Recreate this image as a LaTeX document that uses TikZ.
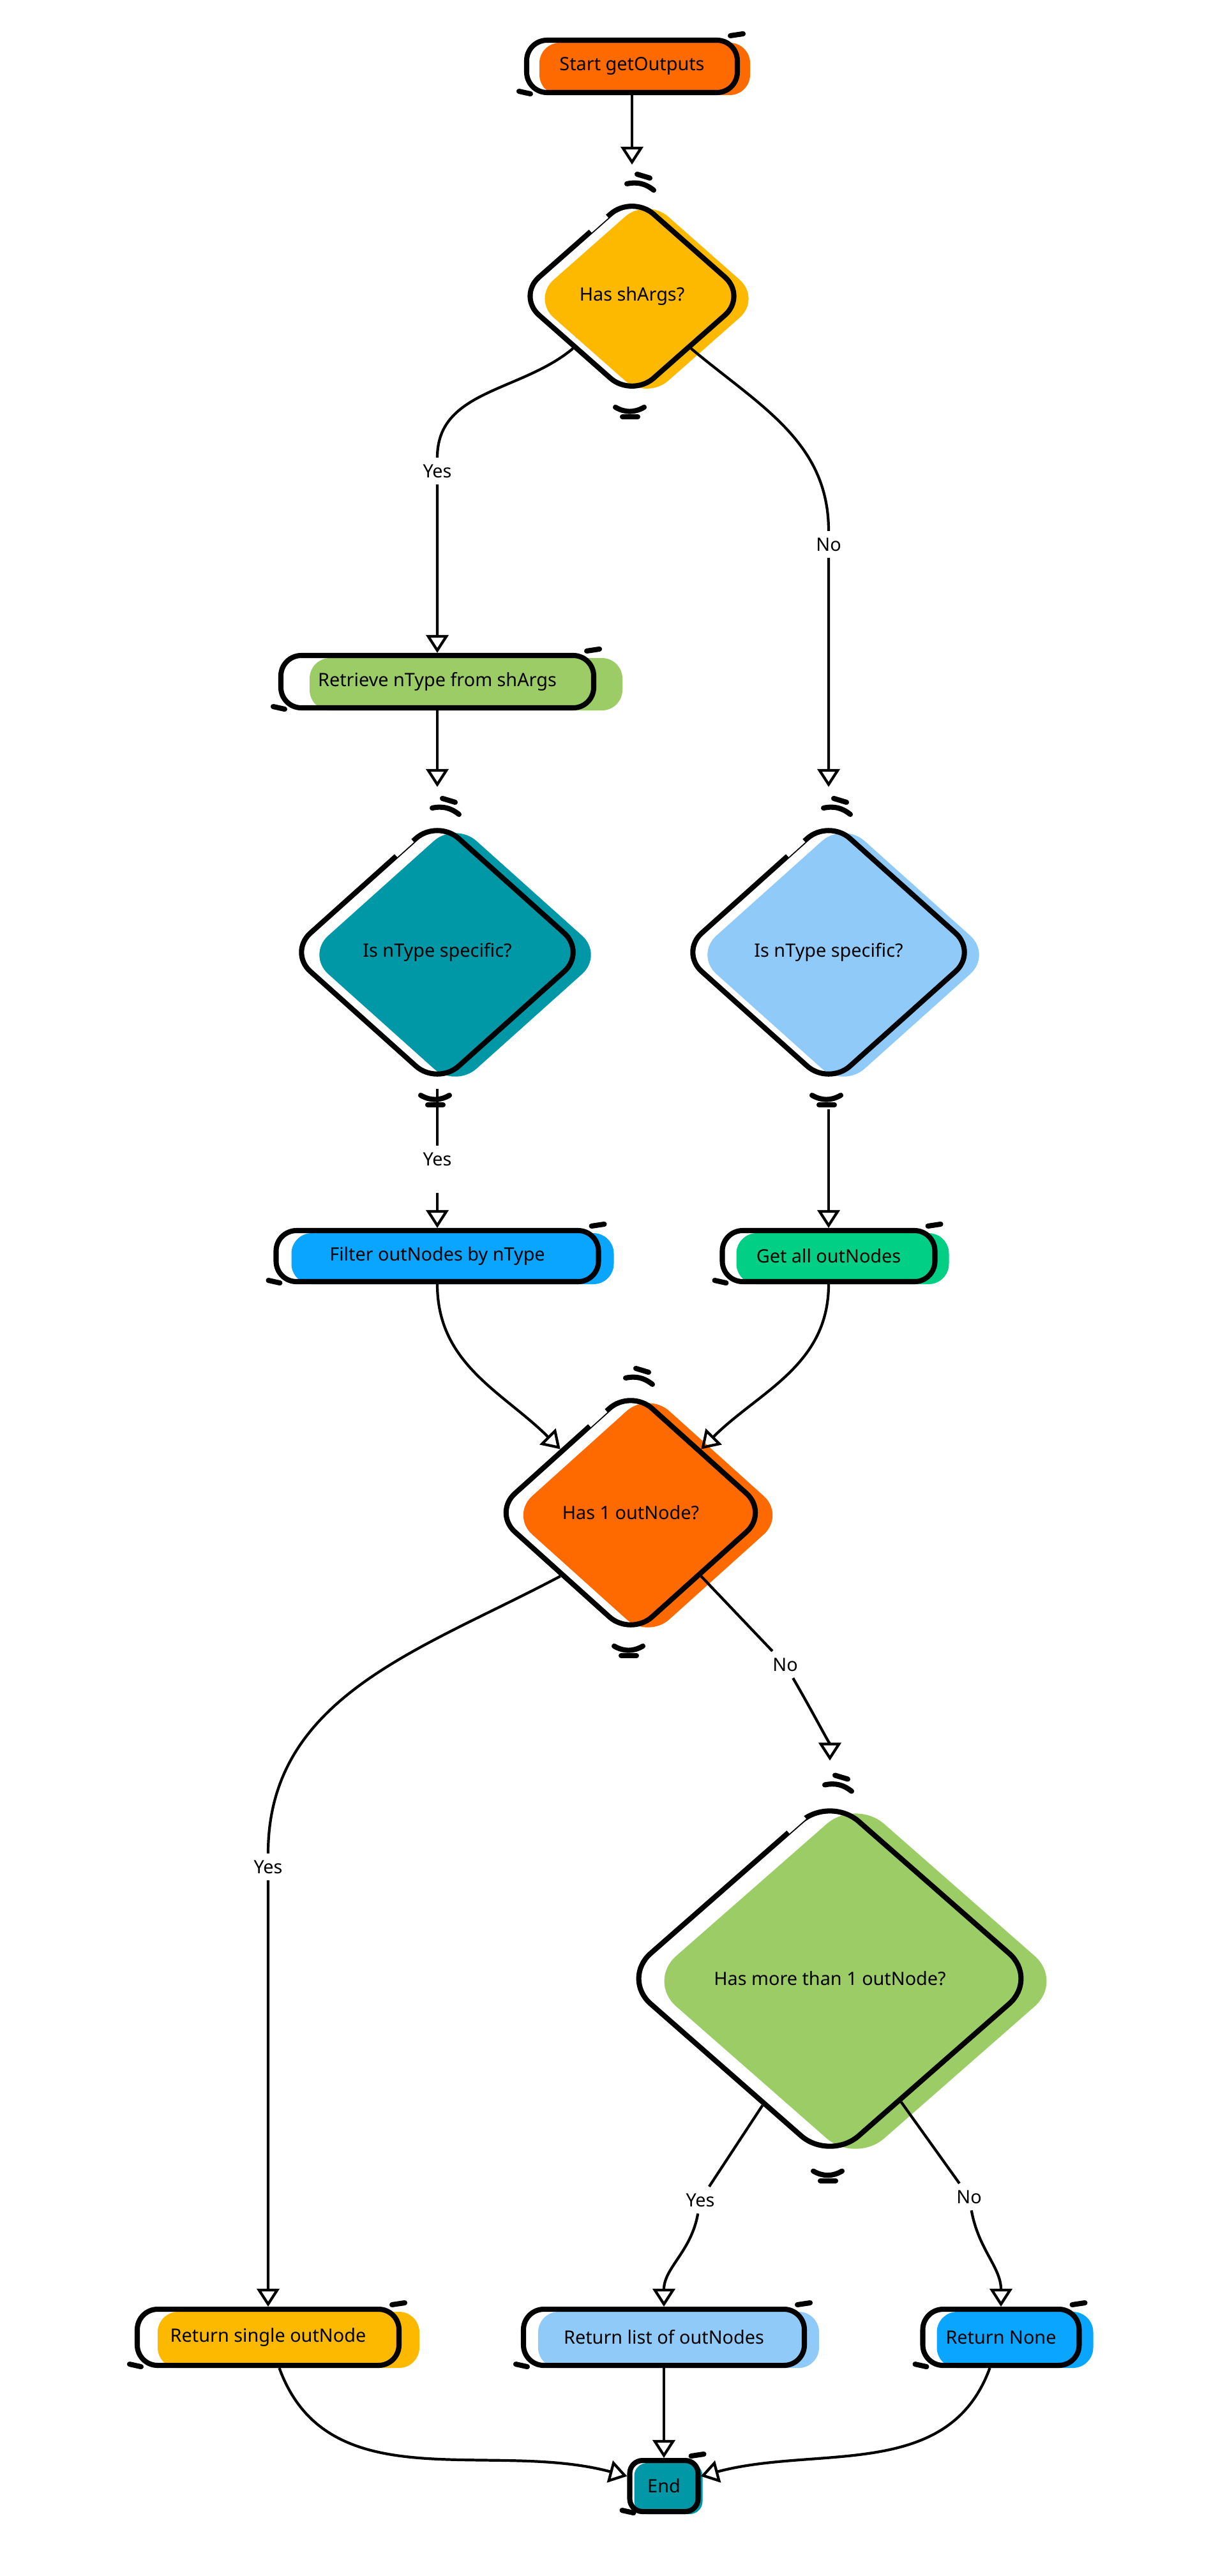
\documentclass[tikz,border=0pt]{standalone}
\usepackage{fontspec}
\setmainfont{Noto Sans}
\usetikzlibrary{shapes.geometric,arrows.meta,calc}

\definecolor{cOrange}{HTML}{FF6A00}
\definecolor{cAmber}{HTML}{FCB900}
\definecolor{cGreen}{HTML}{9CCC65}
\definecolor{cTeal}{HTML}{0097A7}
\definecolor{cSky}{HTML}{90CAF9}
\definecolor{cBlue}{HTML}{0AA5FF}
\definecolor{cMint}{HTML}{00CF85}

\tikzset{
  paint/.style 2 args={preaction={fill=#1, draw=none, transform canvas={xshift=#2, yshift=-0.04cm}}},
}

\newcommand{\boxmarks}[1]{%
  \draw[scrib] ($(#1.north east)+(-0.15,0.03)$) -- ++(0.2,0.03);
  \draw[scrib] ($(#1.south west)+(-0.08,0.06)$) -- ++(0.18,-0.04);
}
\newcommand{\decmarks}[1]{%
  \draw[line width=3.6pt, white] ($(#1.north)!0.55cm!(#1.west)$) -- ($(#1.north)!0.9cm!(#1.west)$);
  \draw[scrib] ($(#1.north)+(-0.08,0.12)$) to[bend left=25] ++(0.42,-0.1);
  \draw[scrib] ($(#1.north)+(0.08,0.27)$) -- ++(0.2,-0.06);
  \draw[scrib] ($(#1.south)+(-0.26,-0.1)$) to[bend right=30] ++(0.45,0);
  \draw[scrib] ($(#1.south)+(-0.15,-0.25)$) -- ++(0.24,0);
}

\begin{document}
\begin{tikzpicture}[
  proc/.style={draw, line width=2.3pt, line join=round, rounded corners=0.32cm, minimum height=0.82cm, inner sep=0pt, font=\fontsize{8.2}{10}\selectfont},
  dec/.style={diamond, aspect=1, draw, line width=2.3pt, line join=round, rounded corners=0.45cm, inner sep=0pt, font=\fontsize{8.2}{10}\selectfont},
  lbl/.style={fill=white, inner sep=0.1cm, font=\fontsize{8.2}{10}\selectfont},
  flow/.style={line width=1.2pt, -{Triangle[open, length=8pt, width=10pt]}},
  scrib/.style={line width=2.3pt, line cap=round},
]
  \useasboundingbox (0,0) rectangle (18.96,-40.36);

  \node [proc, paint={cOrange}{0.2cm}, minimum width=3.3cm] (start) at (9.9,-1.04) {Start getOutputs};
  \node [dec, paint={cAmber}{0.23cm}, minimum width=3.62cm, minimum height=3.2cm] (dShArgs) at (9.9,-4.64) {Has shArgs?};
  \node [lbl] (lYes1) at (6.85,-7.38) {Yes};
  \node [lbl] (lNo1) at (12.98,-8.53) {No};
  \node [proc, paint={cGreen}{0.45cm}, minimum width=4.9cm] (retrieve) at (6.85,-10.68) {Retrieve nType from shArgs};
  \node [dec, paint={cTeal}{0.28cm}, minimum width=4.68cm, minimum height=4.2cm] (dLeft) at (6.85,-14.92) {Is nType specific?};
  \node [dec, paint={cSky}{0.23cm}, minimum width=4.68cm, minimum height=4.2cm] (dRight) at (12.98,-14.92) {Is nType specific?};
  \node [lbl] (lYes2) at (6.85,-18.16) {Yes};
  \node [proc, paint={cBlue}{0.24cm}, minimum width=5.05cm, minimum height=0.8cm] (filter) at (6.85,-19.68) {Filter outNodes by nType};
  \node [proc, paint={cMint}{0.22cm}, minimum width=3.33cm, minimum height=0.8cm] (getall) at (12.98,-19.68) {Get all outNodes};
  \node [dec, paint={cOrange}{0.27cm}, minimum width=4.33cm, minimum height=3.9cm] (dOne) at (9.88,-23.7) {Has 1 outNode?};
  \node [lbl] (lNo2) at (12.3,-26.08) {No};
  \node [lbl] (lYes3) at (4.2,-29.25) {Yes};
  \node [dec, paint={cGreen}{0.4cm}, minimum width=6.55cm, minimum height=5.75cm, rounded corners=0.6cm] (dMore) at (13,-31) {Has more than 1 outNode?};
  \node [lbl] (lYes4) at (10.97,-34.47) {Yes};
  \node [lbl] (lNo3) at (15.18,-34.42) {No};
  \node [proc, paint={cAmber}{0.32cm}, minimum width=4.1cm, minimum height=0.88cm] (rsingle) at (4.2,-36.62) {Return single outNode};
  \node [proc, paint={cSky}{0.23cm}, minimum width=4.4cm, minimum height=0.88cm] (rlist) at (10.4,-36.62) {Return list of outNodes};
  \node [proc, paint={cBlue}{0.22cm}, minimum width=2.45cm, minimum height=0.88cm] (rnone) at (15.68,-36.62) {Return None};
  \node [proc, paint={cTeal}{0.07cm}, minimum width=1.07cm, minimum height=0.8cm, rounded corners=0.2cm] (done) at (10.4,-38.95) {End};

  \decmarks{dShArgs}
  \decmarks{dLeft}
  \decmarks{dRight}
  \decmarks{dOne}
  \decmarks{dMore}
  \boxmarks{start}
  \boxmarks{retrieve}
  \boxmarks{filter}
  \boxmarks{getall}
  \boxmarks{rsingle}
  \boxmarks{rlist}
  \boxmarks{rnone}
  \boxmarks{done}

  \draw [flow, shorten >=0.42cm] (start) -- (dShArgs);
  \draw [flow] (dShArgs.south west) to[out=-140, in=90] (lYes1) (lYes1) -- (retrieve);
  \draw [flow, shorten >=0.45cm] (dShArgs.south east) to[out=-40, in=90] (lNo1) (lNo1) -- (dRight);
  \draw [flow, shorten >=0.45cm] (retrieve) -- (dLeft);
  \draw [flow, shorten <=0.32cm] (dLeft) -- (lYes2) (lYes2) -- (filter);
  \draw [flow, shorten <=0.32cm] (dRight) -- (getall);
  \draw [flow] (filter) to[out=-90, in=135] (dOne.north west);
  \draw [flow] (getall) to[out=-90, in=45] (dOne.north east);
  \draw [flow] (dOne.south west) to[out=-152, in=90] (lYes3) (lYes3) -- (rsingle);
  \draw [flow, shorten >=0.5cm] (dOne.south east) -- (lNo2) (lNo2) to[out=-60, in=90] (dMore);
  \draw [flow] (dMore.-118) -- (lYes4) (lYes4) to[out=-100, in=90] (rlist);
  \draw [flow] (dMore.-60) -- (lNo3) (lNo3) to[out=-80, in=90] (rnone);
  \draw [flow] (rsingle) to[out=-70, in=165] (done);
  \draw [flow] (rlist) -- (done);
  \draw [flow] (rnone) to[out=-110, in=15] (done);
\end{tikzpicture}
\end{document}
